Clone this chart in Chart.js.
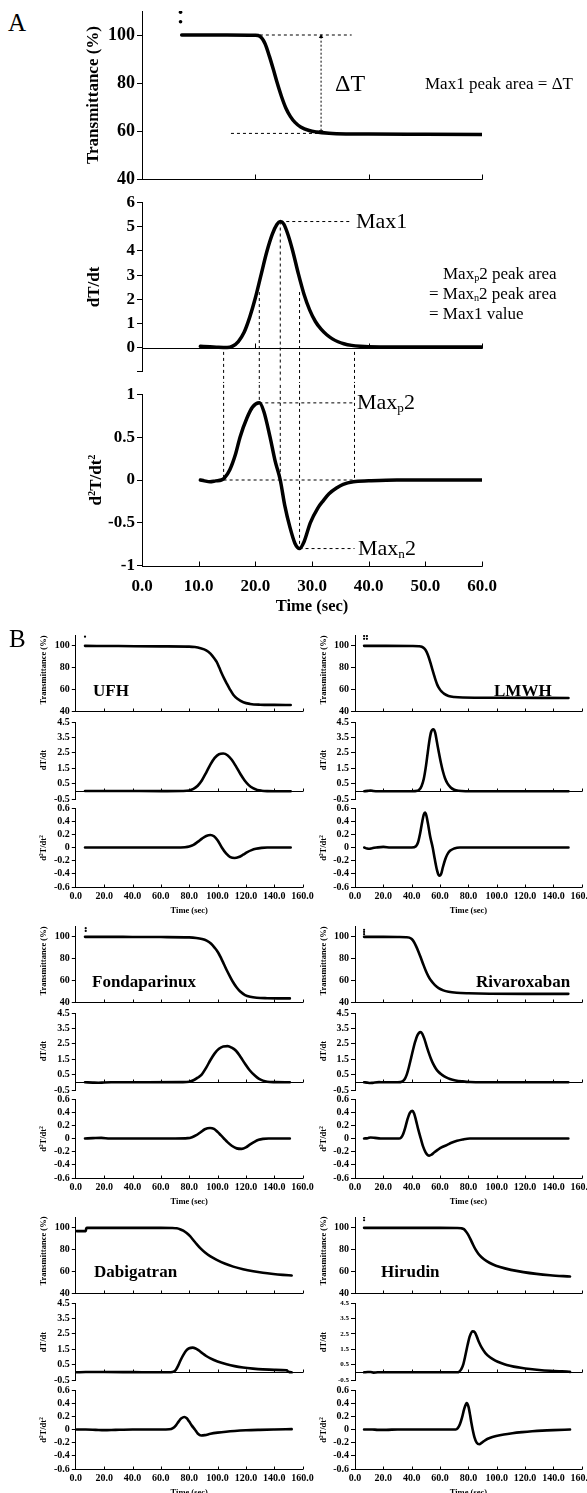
<!DOCTYPE html>
<html><head><meta charset="utf-8">
<script src="https://cdn.jsdelivr.net/npm/chart.js@4.4.1/dist/chart.umd.min.js"></script>
<style>
html,body{margin:0;padding:0;background:#fff;}
#root{position:relative;width:587px;height:1493px;overflow:hidden;background:#fff;color:#000;font-family:"Liberation Serif","Times New Roman",serif;}
canvas{position:absolute;}
.t{position:absolute;white-space:nowrap;line-height:1;}
sub{font-size:0.6em;vertical-align:-0.2em;line-height:0;}
sup{font-size:0.6em;vertical-align:0.55em;line-height:0;}
</style></head><body><div id="root"></div>
<script>
// ================= DATA =================
// ---- Panel A (time in s) ----
const aT_t  = [7, 10, 15, 20, 20.8, 21.7, 22.5, 23.2, 23.8, 24.6, 25.4, 26.2, 27, 28, 29.5, 30.8, 33, 36, 40, 50, 60];
const aT_v  = [100, 100, 100, 99.9, 99.5, 96.5, 91, 85.5, 80.5, 74.5, 69.5, 66, 63.6, 61.7, 60.2, 59.6, 59.1, 58.8, 58.7, 58.6, 58.5];
const aDot_t = [6.8, 6.8];
const aDot_v = [109.5, 105.5];
const aD1_t = [10.3, 12, 13.5, 15, 16, 17, 18, 19, 20, 21, 22, 23, 23.8, 24.4, 25, 25.8, 26.6, 27.6, 28.6, 29.6, 30.6, 31.6, 32.6, 33.6, 34.6, 35.6, 37, 38.5, 40, 45, 60];
const aD1_v = [0.05, 0.03, 0.01, 0, 0.06, 0.25, 0.62, 1.25, 2.05, 3.0, 3.95, 4.7, 5.1, 5.22, 5.12, 4.65, 4.0, 3.05, 2.2, 1.55, 1.08, 0.76, 0.53, 0.36, 0.24, 0.16, 0.09, 0.05, 0.03, 0.02, 0.02];
const aD2_t = [10.3, 11, 12, 13, 14, 14.5, 15.5, 16.5, 17.3, 18.5, 19.5, 20.7, 21.5, 22.6, 23.5, 24.4, 25.2, 26.1, 27, 27.8, 28.6, 29.7, 31, 32, 33, 34.4, 35.5, 37.3, 40, 45, 50, 60];
const aD2_v = [0, -0.01, -0.02, -0.01, 0, 0.02, 0.12, 0.3, 0.5, 0.72, 0.85, 0.9, 0.8, 0.5, 0.22, 0, -0.3, -0.55, -0.74, -0.8, -0.72, -0.5, -0.33, -0.24, -0.16, -0.09, -0.05, -0.02, -0.01, 0, 0, 0];
// guide (dashed) segments, [time, value] pairs
const aGuideTop = [[[20.8, 100], [37, 100]], [[15.7, 59], [31.1, 59]]];
const aArrow    = [[31.6, 99.3], [31.6, 59.8]];
const aGuideMid = [[[24.4, 5.22], [37, 5.22]], [[14.4, -0.18], [14.4, -4]], [[20.7, 2.3], [20.7, -4]], [[24.4, 5.22], [24.4, -4]], [[27.8, 2.3], [27.8, -4]], [[37.5, -0.18], [37.5, -4]]];
const aGuideBot = [[[14.4, 1.6], [14.4, 0]], [[20.7, 1.6], [20.7, 0.9]], [[24.4, 1.6], [24.4, 0]], [[27.8, 1.6], [27.8, -0.8]], [[37.5, 1.6], [37.5, 0]],
                   [[14.4, 0], [37.5, 0]], [[20.7, 0.9], [37.5, 0.9]], [[27.8, -0.8], [37.5, -0.8]]];

// ---- Panel B ----
const ufhT_t = [6.5, 30, 60, 80, 84, 88, 92, 95, 97.5, 99.4, 101.2, 102.9, 104.7, 106.4, 108.7, 111.1, 114, 118.2, 123, 130, 140, 151.6];
const ufhT_v = [100, 99.8, 99.5, 99.3, 98.9, 97.8, 95.9, 92.8, 88.8, 85.2, 80.0, 74.8, 69.8, 65.5, 60, 55, 51.2, 48, 46.5, 45.8, 45.6, 45.5];
const ufhDot_t = [6.5]; const ufhDot_v = [108.5];
const ufhD1_t = [6.5, 30, 60, 75, 80, 83, 86, 89, 92, 95, 98, 101, 104, 107, 110, 113, 116, 119, 122, 125, 128, 131, 135, 140, 151.6];
const ufhD1_v = [0.02, 0.02, 0.01, 0.02, 0.05, 0.15, 0.36, 0.72, 1.22, 1.75, 2.17, 2.41, 2.45, 2.34, 2.05, 1.62, 1.14, 0.72, 0.4, 0.2, 0.09, 0.04, 0.01, 0, 0];
const ufhD2_t = [6.5, 40, 70, 77, 80, 83, 86, 89, 92, 95, 97.5, 100, 103, 106, 109, 112, 115, 118, 121, 124, 127, 131, 135, 151.6];
const ufhD2_v = [0, 0, 0, 0.005, 0.015, 0.04, 0.085, 0.135, 0.175, 0.19, 0.17, 0.11, 0, -0.09, -0.145, -0.16, -0.145, -0.11, -0.07, -0.04, -0.02, -0.006, 0, 0];

const lmT_t = [6.4, 20, 40, 45, 47.1, 49, 50.5, 52, 53.2, 54.4, 55.6, 56.8, 58, 59.5, 61, 63, 66, 70, 76, 100, 150.6];
const lmT_v = [100, 100, 99.9, 99.7, 99.2, 97.5, 94.5, 89.5, 84.5, 79, 73.8, 68.6, 64.3, 60.6, 58, 55.8, 53.9, 52.9, 52.4, 52.2, 52];
const lmDot_t = [6.4, 8.4, 6.4, 8.4]; const lmDot_v = [109, 109, 106.5, 106.5];
const lmD1_t = [6.5, 9, 11, 13, 16, 40, 44, 45.5, 47, 48.5, 50, 51.3, 52.5, 53.7, 55.2, 56.6, 57.8, 59.2, 60.6, 62, 63.5, 65.3, 67.5, 70, 73, 78, 150.6];
const lmD1_v = [0, 0.03, 0.05, 0.02, 0, 0, 0.03, 0.12, 0.35, 0.8, 1.6, 2.5, 3.3, 3.85, 4.03, 3.8, 3.2, 2.5, 1.85, 1.3, 0.85, 0.5, 0.25, 0.1, 0.03, 0, 0];
const lmD2_t = [6.5, 8.5, 10, 12, 15, 20, 25, 40, 43, 44.5, 46, 47.5, 48.5, 49.4, 50.3, 51.5, 53, 54.8, 56.3, 57.8, 59, 59.9, 60.8, 62, 63.5, 65, 67, 70, 74, 150.6];
const lmD2_v = [0, -0.015, -0.02, -0.01, 0, 0.01, 0, 0, 0.02, 0.08, 0.22, 0.4, 0.5, 0.53, 0.49, 0.36, 0.17, 0, -0.18, -0.34, -0.42, -0.43, -0.4, -0.3, -0.19, -0.11, -0.05, -0.015, 0, 0];

const fdT_t = [6.5, 20, 40, 60, 80, 85, 89, 92.3, 95.5, 98, 100.5, 102.5, 104.5, 106.5, 108.8, 111, 113.5, 116, 119.4, 123, 127.6, 135, 151];
const fdT_v = [100, 100, 99.9, 99.8, 99.5, 99, 98.1, 96.6, 93.6, 89.9, 85.4, 80.4, 74.8, 69.2, 63.4, 58.2, 53.3, 49.6, 46.4, 44.8, 43.9, 43.5, 43.3];
const fdDot_t = [7, 7]; const fdDot_v = [108, 105.5];
const fdD1_t = [6.5, 12, 16, 20, 25, 50, 75, 80, 83, 86, 88.8, 92, 95, 98, 101, 104, 107.1, 110, 113, 116, 119.4, 122.5, 126.5, 129, 132, 135, 140, 151];
const fdD1_v = [0, -0.02, -0.03, -0.01, 0, 0, 0.01, 0.04, 0.13, 0.3, 0.5, 0.95, 1.45, 1.88, 2.18, 2.33, 2.35, 2.25, 2.05, 1.68, 1.2, 0.8, 0.42, 0.24, 0.11, 0.04, 0.01, 0];
const fdD2_t = [6.5, 12, 18, 24, 40, 70, 79, 82, 85, 88, 91, 94.7, 97.5, 100, 102.3, 104.5, 107, 110, 113.5, 117, 120, 123, 126, 129, 132, 136, 151];
const fdD2_v = [0, 0.005, 0.01, 0, 0, 0, 0.005, 0.02, 0.05, 0.095, 0.14, 0.16, 0.145, 0.1, 0.05, 0, -0.055, -0.11, -0.15, -0.157, -0.135, -0.09, -0.05, -0.02, -0.006, 0, 0];

const rvT_t = [6.4, 20, 30, 36, 38.3, 40, 41.5, 43, 44.7, 46.5, 48.2, 50, 51.7, 53.5, 56.4, 59, 62.3, 66, 71.7, 80, 95, 120, 150.5];
const rvT_v = [100, 100, 99.9, 99.7, 99.3, 98, 95.5, 91.7, 86.6, 80.5, 74.5, 68.6, 63.9, 60, 55.6, 52.8, 50.7, 49.4, 48.5, 48, 47.6, 47.5, 47.5];
const rvDot_t = [6.4, 6.4, 6.4]; const rvDot_v = [106.5, 104.5, 102.5];
const rvD1_t = [6.4, 8.5, 10.5, 12, 14, 17, 20, 30, 32, 33.5, 35, 36.5, 38, 39.5, 41, 42.5, 44, 46.1, 47.5, 49, 50.5, 52, 53.5, 55, 57, 59, 61.2, 64, 67, 71, 76, 81, 90, 150.5];
const rvD1_v = [0, -0.02, -0.05, -0.04, -0.01, 0.01, 0, 0, 0.01, 0.06, 0.2, 0.5, 0.98, 1.55, 2.13, 2.65, 3.05, 3.26, 3.15, 2.8, 2.35, 1.93, 1.55, 1.23, 0.9, 0.67, 0.5, 0.33, 0.21, 0.12, 0.06, 0.02, 0, 0];
const rvD2_t = [6.4, 9, 11, 14, 18, 31, 32.5, 34, 35.5, 37, 38.7, 40.4, 41.7, 43, 44.7, 46.4, 48, 49.8, 51.2, 52.4, 54, 56, 58.5, 61, 64.7, 68, 72, 76, 81, 150.5];
const rvD2_v = [0, 0.005, 0.015, 0.01, 0, 0, 0.015, 0.07, 0.17, 0.29, 0.39, 0.42, 0.38, 0.28, 0.13, 0, -0.12, -0.21, -0.25, -0.26, -0.245, -0.21, -0.17, -0.135, -0.1, -0.065, -0.035, -0.015, 0, 0];

const dbT_t = [0.6, 7, 7.4, 8, 20, 40, 60, 68, 71.2, 73.5, 75.8, 78.2, 80.6, 83, 85.3, 88, 91.2, 95, 99.4, 105, 111.1, 118, 125.2, 132, 139.3, 146, 152.3];
const dbT_v = [97, 97, 99.5, 100, 100, 100, 100, 99.9, 99.6, 98.8, 97.4, 95.2, 92.3, 88.6, 85, 81.1, 77.3, 73.7, 70.5, 67.1, 64.3, 61.9, 60, 58.6, 57.5, 56.7, 56.1];
const dbDot_t = []; const dbDot_v = [];
const dbD1_t = [0.6, 7, 20, 40, 60, 67, 69, 70.5, 72.3, 74, 76, 78, 80, 82.4, 84.5, 86.5, 89, 92, 95, 100, 106.4, 112, 118, 125, 132, 140, 148.8, 149.8, 151, 152.3];
const dbD1_v = [0, 0.02, 0.02, 0.01, 0, 0.005, 0.04, 0.15, 0.45, 0.8, 1.15, 1.42, 1.56, 1.6, 1.55, 1.44, 1.26, 1.06, 0.9, 0.7, 0.52, 0.4, 0.31, 0.24, 0.19, 0.16, 0.13, 0.04, 0.01, 0];
const dbD2_t = [0.6, 7, 14, 20, 28, 40, 60, 66, 68.5, 70.5, 72.5, 74.5, 76.6, 78.3, 80, 82, 84, 86, 88.4, 91, 95, 100, 106, 112, 120, 130, 140, 152.3];
const dbD2_v = [0, 0, -0.005, -0.01, -0.005, 0, 0, 0.003, 0.02, 0.06, 0.12, 0.17, 0.19, 0.17, 0.12, 0.055, 0, -0.06, -0.09, -0.085, -0.065, -0.048, -0.033, -0.022, -0.012, -0.005, 0, 0.005];

const hrT_t = [6.4, 20, 40, 60, 72, 75, 76.8, 78.3, 79.9, 81.6, 83.3, 85, 87, 89.5, 92.9, 97, 102.3, 110, 118.8, 128, 137.6, 151.7];
const hrT_v = [100, 100, 100, 100, 99.9, 99.6, 98.8, 96.7, 93.6, 89.2, 84.4, 80.1, 76.2, 72.7, 69.4, 66.5, 63.9, 61.3, 59.2, 57.6, 56.4, 55.2];
const hrDot_t = [6.4, 6.4]; const hrDot_v = [109.5, 107];
const hrD1_t = [6.4, 9, 11, 13, 16, 40, 60, 72, 73.5, 75, 76.5, 78, 79.5, 81, 83, 84.5, 86, 87.5, 89.5, 92, 95.2, 99, 103, 107, 112, 117, 123.5, 130, 137.6, 144, 149.4, 151.7];
const hrD1_v = [0, 0.02, 0.02, -0.02, 0, 0, 0, 0, 0.04, 0.2, 0.55, 1.15, 1.8, 2.35, 2.66, 2.6, 2.3, 1.95, 1.58, 1.25, 0.98, 0.76, 0.6, 0.48, 0.37, 0.29, 0.21, 0.15, 0.1, 0.07, 0.05, 0.03];
const hrD2_t = [6.4, 12, 16, 22, 30, 60, 71, 72.5, 74, 75.5, 77, 78.8, 80, 81.2, 82.2, 83, 84.3, 85.8, 87.7, 89.5, 92, 95, 99.6, 105, 111, 118, 125, 132, 140, 151.7];
const hrD2_v = [0, 0, -0.005, -0.005, 0, 0, 0, 0.02, 0.08, 0.18, 0.31, 0.4, 0.35, 0.22, 0.09, 0, -0.12, -0.2, -0.225, -0.2, -0.16, -0.13, -0.1, -0.075, -0.056, -0.04, -0.027, -0.017, -0.009, 0];

const drugNames = ['UFH', 'LMWH', 'Fondaparinux', 'Rivaroxaban', 'Dabigatran', 'Hirudin'];

// ================= RENDER =================
const SERIF = '"Liberation Serif","Times New Roman",serif';
Chart.defaults.font.family = SERIF;
Chart.defaults.color = '#000';
const root = document.getElementById('root');

function pts(ts, vs) { return ts.map((t, i) => ({x: t, y: vs[i]})); }
function curve(ts, vs, w) { return {data: pts(ts, vs), borderColor: '#000', borderWidth: w, pointRadius: 0, cubicInterpolationMode: 'monotone', fill: false, borderJoinStyle: 'round', borderCapStyle: 'round'}; }
function dots(ts, vs, r) { return {data: pts(ts, vs), showLine: false, pointRadius: r, pointBackgroundColor: '#000', pointBorderWidth: 0, borderWidth: 0}; }
function guide(seg, noclip) {
  const d = {data: seg.map(p => ({x: p[0], y: p[1]})), borderColor: '#000', borderWidth: 1, borderDash: [3, 3], pointRadius: 0, tension: 0, fill: false};
  if (noclip) d.clip = false;
  return d;
}

const axisPlugin = {
  id: 'axisx',
  beforeDatasetsDraw(chart, args, o) {
    const ctx = chart.ctx, xs = chart.scales.x, ys = chart.scales.y;
    const yb = Math.round(ys.getPixelForValue(o.base)) + 0.5;
    ctx.save();
    ctx.strokeStyle = '#000'; ctx.lineWidth = 1; ctx.setLineDash([]);
    ctx.beginPath();
    ctx.moveTo(xs.getPixelForValue(xs.min), yb);
    ctx.lineTo(xs.getPixelForValue(xs.max) + 0.5, yb);
    for (let v = o.step; v <= xs.max + 1e-9; v += o.step) {
      const px = Math.round(xs.getPixelForValue(v)) + 0.5;
      ctx.moveTo(px, yb); ctx.lineTo(px, yb - o.len);
    }
    ctx.stroke();
    ctx.restore();
  }
};

function plot(o) {
  const cv = document.createElement('canvas');
  cv.width = o.box.w; cv.height = o.box.h;
  cv.style.left = o.box.l + 'px'; cv.style.top = o.box.t + 'px';
  cv.style.width = o.box.w + 'px'; cv.style.height = o.box.h + 'px';
  root.appendChild(cv);
  const xH = o.showX ? o.xH : 0;
  const pad = {
    left: o.area.x0 - o.box.l - o.yW,
    right: o.box.l + o.box.w - o.area.x1,
    top: o.area.y0 - o.box.t,
    bottom: o.box.t + o.box.h - o.area.y1 - xH
  };
  new Chart(cv, {
    type: 'line',
    data: {datasets: o.datasets},
    options: {
      responsive: false, animation: false, devicePixelRatio: 1, events: [],
      layout: {padding: pad},
      plugins: {legend: {display: false}, tooltip: {enabled: false}, axisx: {base: o.base, step: o.xTick, len: o.xTickLen}},
      scales: {
        x: {
          type: 'linear', min: 0, max: o.xmax, display: !!o.showX,
          afterFit: s => { s.height = xH; },
          ticks: {stepSize: o.xstep, includeBounds: false, autoSkip: false, maxRotation: 0, minRotation: 0,
                  font: {size: o.xfont, weight: 'bold', lineHeight: 1}, color: '#000', padding: o.xpad,
                  callback: v => Number(v).toFixed(1)},
          grid: {display: false, drawTicks: false}, border: {display: false}
        },
        y: {
          type: 'linear', min: o.ymin, max: o.ymax,
          afterFit: s => { s.width = o.yW; },
          ticks: {stepSize: o.ystep, includeBounds: false, autoSkip: false,
                  font: {size: o.yfont, weight: 'bold', lineHeight: 1}, color: '#000', padding: o.ypad,
                  callback: o.yfmt},
          grid: {display: true, drawOnChartArea: false, drawTicks: true, tickLength: o.yTickLen, color: '#000', lineWidth: 1},
          border: {display: true, color: '#000', width: 1}
        }
      }
    },
    plugins: [axisPlugin]
  });
}

function text(html, x, y, size, bold, center, rot) {
  const d = document.createElement('div');
  d.className = 't'; d.innerHTML = html;
  d.style.left = x + 'px'; d.style.top = y + 'px';
  d.style.fontSize = size + 'px'; d.style.fontWeight = bold ? 'bold' : 'normal';
  d.style.transform = (center ? 'translate(-50%,-50%)' : 'translate(0,-50%)') + (rot ? ' rotate(-90deg)' : '');
  root.appendChild(d);
}

const fmtPlain = v => { const r = Math.round(v * 10) / 10; return String(r === 0 ? 0 : r); };

// ---------- Panel A ----------
const AX = [142, 482];
const aCommon = {yW: 45, yfont: 17, ypad: 2, yTickLen: 5, xmax: 60, xstep: 10, xTickLen: 5};
plot(Object.assign({}, aCommon, {
  box: {l: 40, t: 0, w: 547, h: 190}, area: {x0: AX[0], x1: AX[1], y0: 11, y1: 179},
  ymin: 40, ymax: 110, ystep: 20, yfont: 18, yfmt: v => String(v), base: 40, xTick: 20,
  datasets: [curve(aT_t, aT_v, 3.5), dots(aDot_t, aDot_v, 1.8),
             guide(aGuideTop[0]), guide(aGuideTop[1]),
             Object.assign(guide(aArrow), {borderDash: [2, 2], pointStyle: 'triangle', pointRadius: 2.6, pointRotation: [0, 180], pointBackgroundColor: '#000', pointBorderWidth: 0})]
}));
plot(Object.assign({}, aCommon, {
  box: {l: 40, t: 190, w: 547, h: 193}, area: {x0: AX[0], x1: AX[1], y0: 202.7, y1: 371.7},
  ymin: -1, ymax: 6, ystep: 1, yfmt: v => (v === -1 ? '' : String(v)), base: 0, xTick: 20,
  datasets: aGuideMid.map(s => guide(s, true)).concat([curve(aD1_t, aD1_v, 3.5)])
}));
plot(Object.assign({}, aCommon, {
  box: {l: 40, t: 383, w: 547, h: 237}, area: {x0: AX[0], x1: AX[1], y0: 394.3, y1: 565.7},
  ymin: -1, ymax: 1, ystep: 0.5, yfmt: fmtPlain, base: -1, xTick: 10,
  showX: true, xH: 30, xfont: 17, xpad: 12,
  datasets: aGuideBot.map(s => guide(s, true)).concat([curve(aD2_t, aD2_v, 3.5)])
}));

// ---------- Panel B ----------
const bRows = [635, 926, 1216.5];
const bCols = [[75.8, 302.6], [355, 581.8]];
const bBox = [[38, 283], [318, 290]];
const drugs = [
  {c: 0, r: 0, T: [ufhT_t, ufhT_v], P: [ufhDot_t, ufhDot_v], D1: [ufhD1_t, ufhD1_v], D2: [ufhD2_t, ufhD2_v], lx: 93, mf: 10},
  {c: 1, r: 0, T: [lmT_t, lmT_v], P: [lmDot_t, lmDot_v], D1: [lmD1_t, lmD1_v], D2: [lmD2_t, lmD2_v], lx: 494, mf: 10},
  {c: 0, r: 1, T: [fdT_t, fdT_v], P: [fdDot_t, fdDot_v], D1: [fdD1_t, fdD1_v], D2: [fdD2_t, fdD2_v], lx: 92, mf: 10},
  {c: 1, r: 1, T: [rvT_t, rvT_v], P: [rvDot_t, rvDot_v], D1: [rvD1_t, rvD1_v], D2: [rvD2_t, rvD2_v], lx: 476, mf: 10},
  {c: 0, r: 2, T: [dbT_t, dbT_v], P: [dbDot_t, dbDot_v], D1: [dbD1_t, dbD1_v], D2: [dbD2_t, dbD2_v], lx: 94, mf: 10},
  {c: 1, r: 2, T: [hrT_t, hrT_v], P: [hrDot_t, hrDot_v], D1: [hrD1_t, hrD1_v], D2: [hrD2_t, hrD2_v], lx: 381, mf: 7}
];
const bCommon = {yW: 30, yfont: 10, ypad: 2, yTickLen: 4, xmax: 160, xstep: 20, xTick: 20, xTickLen: 3};
drugs.forEach((d, i) => {
  const y0 = bRows[d.r], x0 = bCols[d.c][0], x1 = bCols[d.c][1];
  const bl = bBox[d.c][0], bw = bBox[d.c][1];
  plot(Object.assign({}, bCommon, {
    box: {l: bl, t: y0 - 10, w: bw, h: 96.3}, area: {x0, x1, y0: y0, y1: y0 + 76.3},
    ymin: 40, ymax: 110, ystep: 20, yfmt: v => String(v), base: 40,
    datasets: [curve(d.T[0], d.T[1], 2.6), dots(d.P[0], d.P[1], 1.1)]
  }));
  plot(Object.assign({}, bCommon, {
    box: {l: bl, t: y0 + 76.7, w: bw, h: 97}, area: {x0, x1, y0: y0 + 86.7, y1: y0 + 163.7},
    ymin: -0.5, ymax: 4.5, ystep: 1, yfont: d.mf, yfmt: v => Number(v).toFixed(1), base: 0,
    datasets: [curve(d.D1[0], d.D1[1], 2.6)]
  }));
  plot(Object.assign({}, bCommon, {
    box: {l: bl, t: y0 + 163.3, w: bw, h: 109}, area: {x0, x1, y0: y0 + 173.3, y1: y0 + 252.3},
    ymin: -0.6, ymax: 0.6, ystep: 0.2, yfmt: fmtPlain, base: -0.6,
    showX: true, xH: 16, xfont: 10, xpad: 4,
    datasets: [curve(d.D2[0], d.D2[1], 2.6)]
  }));
  const tx = x0 - 32.5;
  text('Transmittance (%)', tx, y0 + 34.5, 8.5, true, true, true);
  text('dT/dt', tx, y0 + 125, 8.5, true, true, true);
  text('d<sup>2</sup>T/dt<sup>2</sup>', tx, y0 + 213, 8.5, true, true, true);
  text('Time (sec)', (x0 + x1) / 2, y0 + 275, 8.5, true, true, false);
  text(drugNames[i], d.lx, y0 + 54.5, 17, true, false, false);
});

// ---------- Panel A texts ----------
text('A', 8, 22, 25, false, false, false);
text('B', 9, 638, 25, false, false, false);
text('Transmittance (%)', 92, 95, 17, true, true, true);
text('dT/dt', 93, 287, 17, true, true, true);
text('d<sup>2</sup>T/dt<sup>2</sup>', 95, 480, 17, true, true, true);
text('Time (sec)', 312, 606, 16.5, true, true, false);
text('\u0394T', 335, 83, 24, false, false, false);
text('Max1 peak area = \u0394T', 425, 83, 17, false, false, false);
text('Max1', 356, 221, 22, false, false, false);
text('Max<sub>p</sub>2 peak area', 443, 273, 17, false, false, false);
text('= Max<sub>n</sub>2 peak area', 429, 293, 17, false, false, false);
text('= Max1 value', 429, 313, 17, false, false, false);
text('Max<sub>p</sub>2', 357, 402, 22, false, false, false);
text('Max<sub>n</sub>2', 358, 548, 22, false, false, false);
</script></body></html>
